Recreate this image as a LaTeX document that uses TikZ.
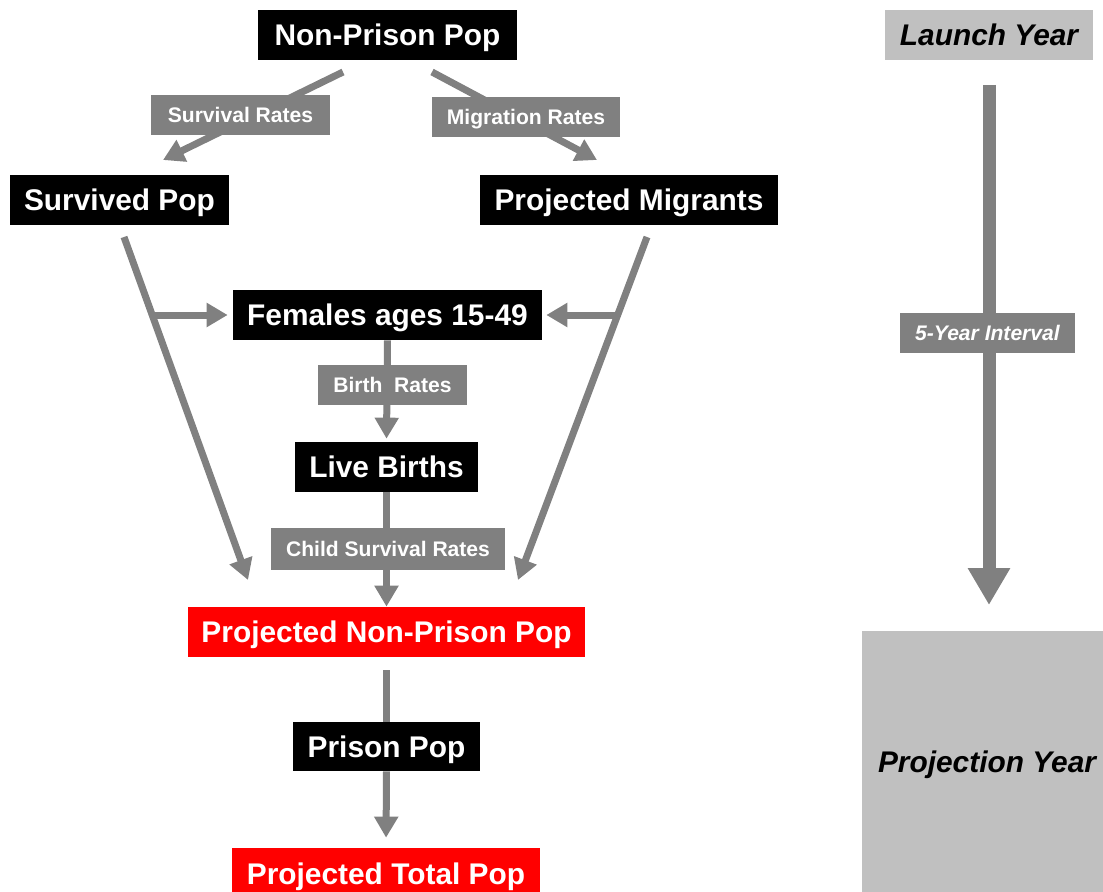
\documentclass[tikz,border=0pt]{standalone}
\usepackage{fontspec}
\setmainfont{Liberation Sans}
\usetikzlibrary{arrows.meta,backgrounds}
\definecolor{cgray}{HTML}{808080}
\definecolor{clight}{HTML}{C0C0C0}
\definecolor{cred}{HTML}{FF0000}
\begin{document}
\begin{tikzpicture}[x=0.02cm,y=-0.02cm,
  box/.style={fill=black,text=white,font=\fontsize{17}{20}\selectfont\bfseries,inner sep=0pt,minimum height=1cm,text height=12.2pt,text depth=0pt},
  rbox/.style={box,fill=cred},
  lab/.style={fill=cgray,text=white,font=\fontsize{12}{14}\selectfont\bfseries,inner sep=0pt,minimum height=0.8cm,text height=8.6pt,text depth=0pt},
  yearbox/.style={fill=clight,text=black,font=\fontsize{17}{20}\selectfont\bfseries\itshape,inner sep=0pt,text height=12.2pt,text depth=0pt},
  conn/.style={draw=cgray,line width=0.14cm,-{Triangle[width=0.46cm,length=0.42cm]}},
  plainconn/.style={draw=cgray,line width=0.14cm},
  bigconn/.style={draw=cgray,line width=0.26cm,-{Triangle[width=0.8cm,length=0.74cm]}},
]
\useasboundingbox (0,0) rectangle (1103,892);

% main boxes
\node[box,minimum width=5.18cm] (np) at (387.5,35) {Non-Prison Pop};
\node[box,minimum width=4.38cm] (sp) at (119.5,200) {Survived Pop};
\node[box,minimum width=5.96cm] (pm) at (629,200) {Projected Migrants};
\node[box,minimum width=6.18cm] (fem) at (387.5,315) {Females ages 15-49};
\node[box,minimum width=3.66cm] (lb) at (386.5,467) {Live Births};
\node[rbox,minimum width=7.94cm] (pnp) at (386.5,632) {Projected Non-Prison Pop};
\node[box,minimum width=3.74cm,minimum height=0.98cm] (pp) at (386.5,746.5) {Prison Pop};
\node[rbox,minimum width=6.16cm,minimum height=1.04cm] (ptp) at (386,874) {Projected Total Pop};

% year boxes
\node[yearbox,minimum width=4.16cm,minimum height=1cm] (ly) at (989,35) {Launch Year};
\node[yearbox,minimum width=5cm,minimum height=5.22cm] (py) at (987,761.5) {Projection Year};

% free ends
\coordinate (a1s) at (343,72);
\coordinate (a1e) at (163,160);
\coordinate (a2s) at (432,72);
\coordinate (a2e) at (597,160);
\coordinate (l1s) at (124,237);
\coordinate (l1e) at (248,580);
\coordinate (l1b) at (153,315);
\coordinate (r1s) at (647,237);
\coordinate (r1e) at (518,580);
\coordinate (r1b) at (617,315);
\coordinate (pnpgap) at (386.5,670);
\coordinate (ra) at (989,85);
\coordinate (rb) at (989,605);

\begin{pgfonlayer}{background}
  \draw[conn] (a1s) -- (a1e);
  \draw[conn] (a2s) -- (a2e);
  \draw[conn] (l1s) -- (l1e);
  \draw[conn] (l1b) -- ([xshift=-0.1cm]fem.west);
  \draw[conn] (r1s) -- (r1e);
  \draw[conn] (r1b) -- ([xshift=0.08cm]fem.east);
  \draw[conn] (fem.south) -- ([yshift=0.06cm]lb.north);
  \draw[conn] (lb.south) -- (pnp.north);
  \draw[plainconn] (pnpgap) -- (pp.north);
  \draw[conn,shorten >=0.2cm] (pp.south) -- (ptp.north);
  \draw[bigconn] (ra) -- (rb);
\end{pgfonlayer}

% labels on connectors
\node[lab,minimum width=3.58cm] (sr) at (240.5,115) {Survival Rates};
\node[lab,minimum width=3.76cm] (mr) at (526,117) {Migration Rates};
\node[lab,minimum width=2.98cm] (br) at (392.5,385) {Birth\ \ Rates};
\node[lab,minimum width=4.68cm,minimum height=0.84cm] (csr) at (388,549) {Child Survival Rates};
\node[lab,font=\fontsize{12}{14}\selectfont\bfseries\itshape,minimum width=3.5cm] (fy) at (987.5,333) {5-Year Interval};
\end{tikzpicture}
\end{document}
